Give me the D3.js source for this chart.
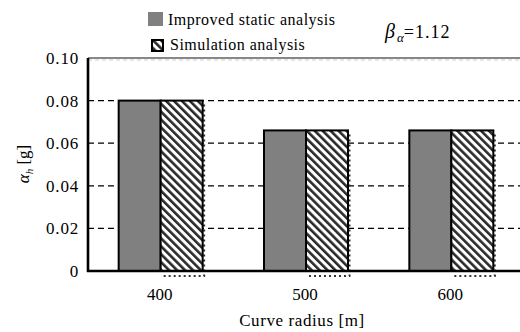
<!DOCTYPE html>
<html>
<head>
<meta charset="utf-8">
<script src="https://cdn.jsdelivr.net/npm/d3@7"></script>
<style>
  body { margin: 0; background: #fff; }
</style>
</head>
<body>
<div id="canvas"></div>
<script>
"use strict"

// chart data
let categories = ["400", "500", "600"];
let improvedValues = [0.080, 0.066, 0.066];
let simulationValues = [0.080, 0.066, 0.066];
let yTicks = [0, 0.02, 0.04, 0.06, 0.08, 0.10];
let yTickLabels = ["0", "0.02", "0.04", "0.06", "0.08", "0.10"];
let seriesNames = ["Improved static analysis", "Simulation analysis"];

let serif = "'Liberation Serif'";

let drawing = d3.select("#canvas")
    .append("svg")
    .attr("width", 520)
    .attr("height", 332);

// hatch pattern for the simulation bars ( \\\ direction )
let defs = drawing.append("defs");
let hatch = defs.append("pattern")
    .attr("id", "hatch")
    .attr("patternUnits", "userSpaceOnUse")
    .attr("width", 5.6)
    .attr("height", 5.6)
    .attr("patternTransform", "rotate(-45)");
hatch.append("rect")
    .attr("width", 5.6).attr("height", 5.6).attr("fill", "white");
hatch.append("rect")
    .attr("x", 0).attr("y", 0)
    .attr("width", 2.6).attr("height", 5.6)
    .attr("fill", "#2a2a2a");

let plotLeft = 88, plotRight = 524, plotTop = 58, plotBottom = 271;

let x = d3.scaleBand()
    .domain(categories)
    .range([plotLeft, plotRight]);

let y = d3.scaleLinear()
    .domain([0, 0.10])
    .range([plotBottom, plotTop]);

let barWidth = 42;

// grid lines
drawing.append("g")
    .selectAll("line")
    .data(yTicks.filter(d => d > 0 && d < 0.10))
    .join("line")
    .attr("x1", plotLeft)
    .attr("x2", 520)
    .attr("y1", d => y(d))
    .attr("y2", d => y(d))
    .attr("stroke", "black")
    .attr("stroke-width", 1.3)
    .attr("stroke-dasharray", "6,4");

// top border line (gray)
drawing.append("line")
    .attr("x1", plotLeft).attr("x2", 520)
    .attr("y1", y(0.10)).attr("y2", y(0.10))
    .attr("stroke", "#888")
    .attr("stroke-width", 2);
drawing.append("line")
    .attr("x1", plotLeft).attr("x2", 520)
    .attr("y1", y(0.10) + 2).attr("y2", y(0.10) + 2)
    .attr("stroke", "#ccc")
    .attr("stroke-width", 1)
    .attr("stroke-dasharray", "4,3");

// dotted shadow under the hatched bars
drawing.append("g")
    .selectAll("path")
    .data(simulationValues)
    .join("path")
    .attr("d", (d, i) => {
        let x0 = x(categories[i]) + x.bandwidth() / 2;
        let x1 = x0 + barWidth + 1.5;
        return "M" + (x0 + 3) + "," + (plotBottom + 5) + "H" + x1 + "V" + (y(d) + 3);
    })
    .attr("fill", "none")
    .attr("stroke", "#333")
    .attr("stroke-width", 2)
    .attr("stroke-dasharray", "2,3");

// improved static analysis bars
drawing.append("g")
    .selectAll("rect")
    .data(improvedValues)
    .join("rect")
    .attr("x", (d, i) => x(categories[i]) + x.bandwidth() / 2 - barWidth)
    .attr("y", d => y(d))
    .attr("width", barWidth)
    .attr("height", d => plotBottom - y(d))
    .attr("fill", "#808080")
    .attr("stroke", "black")
    .attr("stroke-width", 2);

// simulation analysis bars
drawing.append("g")
    .selectAll("rect")
    .data(simulationValues)
    .join("rect")
    .attr("x", (d, i) => x(categories[i]) + x.bandwidth() / 2)
    .attr("y", d => y(d))
    .attr("width", barWidth)
    .attr("height", d => plotBottom - y(d))
    .attr("fill", "url(#hatch)")
    .attr("stroke", "black")
    .attr("stroke-width", 2);

// axes lines
drawing.append("line")
    .attr("x1", plotLeft).attr("x2", plotLeft)
    .attr("y1", plotTop).attr("y2", plotBottom + 1)
    .attr("stroke", "black").attr("stroke-width", 2.6);
drawing.append("line")
    .attr("x1", plotLeft - 1).attr("x2", 520)
    .attr("y1", plotBottom).attr("y2", plotBottom)
    .attr("stroke", "black").attr("stroke-width", 2.6);

// y tick labels
drawing.append("g")
    .selectAll("text")
    .data(yTicks)
    .join("text")
    .attr("x", 79)
    .attr("y", d => y(d) + 6)
    .attr("text-anchor", "end")
    .attr("font-family", serif)
    .attr("font-size", 17)
    .attr("letter-spacing", 0.8)
    .text((d, i) => yTickLabels[i]);

// x tick labels
drawing.append("g")
    .selectAll("text")
    .data(categories)
    .join("text")
    .attr("x", d => x(d) + x.bandwidth() / 2 - 1)
    .attr("y", 300)
    .attr("text-anchor", "middle")
    .attr("font-family", serif)
    .attr("font-size", 17)
    .text(d => d);

// x axis title
drawing.append("text")
    .attr("x", 302)
    .attr("y", 326)
    .attr("text-anchor", "middle")
    .attr("font-family", serif)
    .attr("font-size", 17)
    .attr("letter-spacing", 0.6)
    .text("Curve radius [m]");

// y axis title
let yTitle = drawing.append("text")
    .attr("transform", "translate(29,164) rotate(-90)")
    .attr("text-anchor", "middle")
    .attr("font-family", serif)
    .attr("font-size", 17);
yTitle.append("tspan").attr("font-style", "italic").text("α");
yTitle.append("tspan").attr("font-style", "italic").attr("font-size", 11).attr("dy", 4).text("h");
yTitle.append("tspan").attr("dy", -4).text(" [g]");

// legend
drawing.append("rect")
    .attr("x", 148).attr("y", 12)
    .attr("width", 15).attr("height", 14)
    .attr("fill", "#808080");
drawing.append("text")
    .attr("x", 168).attr("y", 25)
    .attr("font-family", serif)
    .attr("font-size", 16)
    .attr("letter-spacing", 0.5)
    .text(seriesNames[0]);

drawing.append("rect")
    .attr("x", 152).attr("y", 40)
    .attr("width", 11).attr("height", 11)
    .attr("fill", "url(#hatch)")
    .attr("stroke", "black")
    .attr("stroke-width", 2);
drawing.append("text")
    .attr("x", 170).attr("y", 50)
    .attr("font-family", serif)
    .attr("font-size", 16)
    .attr("letter-spacing", 0.5)
    .text(seriesNames[1]);

// beta annotation
let beta = drawing.append("text")
    .attr("x", 385)
    .attr("y", 38)
    .attr("font-family", serif)
    .attr("font-size", 18);
beta.append("tspan").attr("font-style", "italic").attr("font-size", 20).text("β");
beta.append("tspan").attr("font-style", "italic").attr("font-size", 13).attr("dx", 2).attr("dy", 4).text("α");
beta.append("tspan").attr("dy", -4).attr("letter-spacing", 1).text("=1.12");
</script>
</body>
</html>
